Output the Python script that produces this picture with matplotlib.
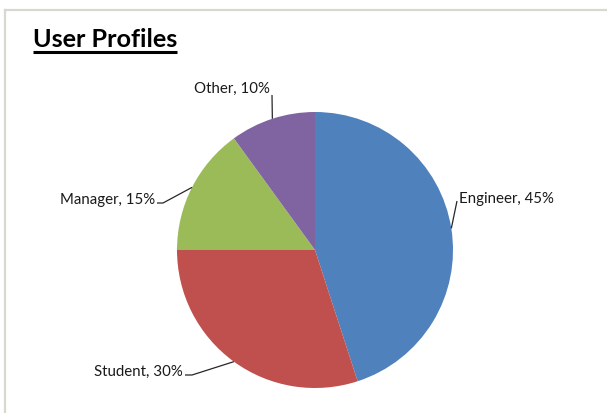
import matplotlib.pyplot as plt
import numpy as np
from matplotlib.lines import Line2D

roles = ['Engineer', 'Student', 'Manager', 'Other']
shares = [45, 30, 15, 10]
colors = ['#4F81BD', '#C0504D', '#9BBB59', '#8064A2']

W, H = 607, 413
# label layout in pixel coords (y down): text anchor, alignment, elbow point
label_pos = {
    'Engineer': ((459, 199), 'left', (457, 201)),
    'Student': ((183, 372), 'right', (192, 375)),
    'Manager': ((155, 200), 'right', (163, 203)),
    'Other': ((270, 89), 'right', (272, 95)),
}


def main():
    plt.rcParams['font.family'] = ['Lato', 'DejaVu Sans']
    fig = plt.figure(figsize=(W / 100, H / 100), dpi=100)
    ax = fig.add_axes([0, 0, 1, 1])

    cx, cy, r = 315, H - 250, 138
    wedges, _ = ax.pie(shares, colors=colors, startangle=90, counterclock=False,
                       center=(cx, cy), radius=r,
                       wedgeprops=dict(linewidth=0))
    ax.set_xlim(0, W)
    ax.set_ylim(0, H)
    ax.set_aspect('equal')
    ax.axis('off')

    for w, role, pct in zip(wedges, roles, shares):
        mid = np.deg2rad((w.theta1 + w.theta2) / 2)
        ax_, ay_ = cx + r * np.cos(mid), cy + r * np.sin(mid)
        (tx, ty), ha, (ex, ey) = label_pos[role]
        sx = tx + 2 if ha == 'right' else tx - 2
        ax.plot([ax_, ex, sx], [ay_, H - ey, H - ey], color='#262626', lw=0.9,
                solid_capstyle='butt')
        ax.text(tx, H - ty, f'{role}, {pct}%', ha=ha, va='center',
                fontsize=10.8, color='#1a1a1a')

    # title with underline
    t = ax.text(33, H - 47, 'User Profiles', ha='left', va='baseline',
                fontsize=18.2, fontweight='bold', color='black')
    fig.canvas.draw()
    bb = t.get_window_extent()
    ax.plot([bb.x0, bb.x1], [H - 51.5, H - 51.5], color='black', lw=2.2,
            solid_capstyle='butt')

    # chart area border (top and left edges visible)
    fig.add_artist(Line2D([5 / W, 5 / W], [0, 1 - 10 / H], color='#D8D8D0',
                          lw=1.6, transform=fig.transFigure))
    fig.add_artist(Line2D([5 / W, 1], [1 - 10 / H, 1 - 10 / H], color='#D8D8D0',
                          lw=1.6, transform=fig.transFigure))

    fig.savefig('out.png', dpi=100, facecolor='white')


if __name__ == '__main__':
    main()
